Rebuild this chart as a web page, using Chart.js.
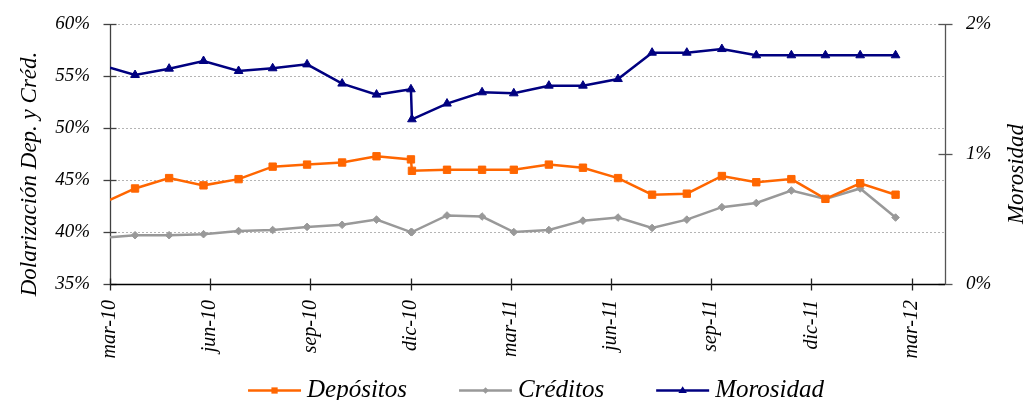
<!DOCTYPE html>
<html><head><meta charset="utf-8">
<script src="https://cdn.jsdelivr.net/npm/chart.js@4.4.0/dist/chart.umd.min.js"></script>
<style>html,body{margin:0;padding:0;background:#fff}#wrap{width:1030px;height:400px}</style>
</head><body><div id="wrap"><canvas id="c" width="1030" height="400"></canvas></div>
<script>
// ---- data ----
const tickLabels = ['mar-10','jun-10','sep-10','dic-10','mar-11','jun-11','sep-11','dic-11','mar-12'];
const monthPos = [0, 0.75, 1.77, 2.80, 3.85, 4.87, 5.90, 6.95, 7.98, 9.01, 9.04, 10.09, 11.14, 12.09, 13.14, 14.16, 15.21, 16.23, 17.27, 18.32, 19.35, 20.40, 21.42, 22.46, 23.52];
const depositos = [43.1, 44.2, 45.2, 44.5, 45.1, 46.3, 46.5, 46.7, 47.3, 47.0, 45.9, 46.0, 46.0, 46.0, 46.5, 46.2, 45.2, 43.6, 43.7, 45.4, 44.8, 45.1, 43.2, 44.7, 43.6];
const creditos  = [39.5, 39.7, 39.7, 39.8, 40.1, 40.2, 40.5, 40.7, 41.2, 40.0, 40.0, 41.6, 41.5, 40.0, 40.2, 41.1, 41.4, 40.4, 41.2, 42.4, 42.8, 44.0, 43.2, 44.2, 41.4];
const morosidad = [1.667, 1.61, 1.659, 1.718, 1.641, 1.662, 1.692, 1.544, 1.459, 1.50, 1.269, 1.39, 1.477, 1.469, 1.528, 1.528, 1.579, 1.782, 1.782, 1.81, 1.762, 1.762, 1.762, 1.762, 1.762];
const leftTicks = [35, 40, 45, 50, 55, 60];
const rightTicks = [0, 1, 2];
const seriesNames = ['Depósitos', 'Créditos', 'Morosidad'];
const leftTitle = 'Dolarización Dep. y Créd.';
const rightTitle = 'Morosidad';

const COLORS = ['#FF6600', '#999999', '#000080'];
const STYLES = ['rect', 'rectRot', 'triangle'];
const RADII = [5.2, 3.8, 5];
const FONT = '"Liberation Serif", "DejaVu Serif", serif';

function pts(vals) { return monthPos.map((x, i) => ({x: x, y: vals[i]})); }
function ds(i, vals, axis) {
  return {
    label: seriesNames[i], data: pts(vals), yAxisID: axis,
    borderColor: COLORS[i], backgroundColor: COLORS[i],
    borderWidth: 2.5, pointStyle: STYLES[i],
    pointRadius: c => c.dataIndex === 0 ? 0 : RADII[i],
    pointBorderWidth: 1, pointBorderColor: COLORS[i], pointBackgroundColor: COLORS[i],
    tension: 0
  };
}

function markerPath(ctx, style, x, y, r) {
  ctx.beginPath();
  if (style === 'rect') { const s = r * Math.SQRT1_2; ctx.rect(x - s, y - s, 2 * s, 2 * s); }
  else if (style === 'rectRot') { ctx.moveTo(x, y - r); ctx.lineTo(x + r, y); ctx.lineTo(x, y + r); ctx.lineTo(x - r, y); ctx.closePath(); }
  else { ctx.moveTo(x, y - r); ctx.lineTo(x + r, y + r * 0.6); ctx.lineTo(x - r, y + r * 0.6); ctx.closePath(); }
}

const decor = {
  id: 'decor',
  beforeDatasetsDraw(chart) {
    const {ctx, chartArea: a, scales} = chart;
    ctx.save();
    ctx.strokeStyle = '#b4b4b4'; ctx.lineWidth = 1; ctx.setLineDash([2, 2]);
    leftTicks.forEach(v => {
      if (v === leftTicks[0]) return;
      const y = Math.round(scales.y.getPixelForValue(v)) + 0.5;
      ctx.beginPath(); ctx.moveTo(a.left, y); ctx.lineTo(a.right, y); ctx.stroke();
    });
    ctx.setLineDash([]);
    ctx.strokeStyle = '#404040'; ctx.lineWidth = 1.3;
    const lx = Math.round(a.left) + 0.5;
    ctx.beginPath(); ctx.moveTo(lx, a.top); ctx.lineTo(lx, a.bottom); ctx.stroke();
    leftTicks.forEach(v => {
      const y = Math.round(scales.y.getPixelForValue(v)) + 0.5;
      ctx.beginPath(); ctx.moveTo(lx - 7, y); ctx.lineTo(lx + 6, y); ctx.stroke();
    });
    ctx.strokeStyle = '#555555';
    const rx = Math.round(a.right) + 0.5;
    ctx.beginPath(); ctx.moveTo(rx, a.top); ctx.lineTo(rx, a.bottom); ctx.stroke();
    rightTicks.forEach(v => {
      const y = Math.round(scales.y1.getPixelForValue(v)) + 0.5;
      ctx.beginPath(); ctx.moveTo(rx - 7, y); ctx.lineTo(rx + 7, y); ctx.stroke();
    });
    ctx.strokeStyle = '#000000'; ctx.lineWidth = 1.5;
    const by = Math.round(a.bottom) + 0.5;
    ctx.beginPath(); ctx.moveTo(a.left, by); ctx.lineTo(a.right, by); ctx.stroke();
    ctx.lineWidth = 1.3; ctx.strokeStyle = '#222';
    tickLabels.forEach((_, i) => {
      const x = Math.round(scales.x.getPixelForValue(i * 3)) + 0.5;
      ctx.beginPath(); ctx.moveTo(x, by - 6); ctx.lineTo(x, by + 6); ctx.stroke();
    });
    ctx.restore();
  },
  afterDraw(chart) {
    const {ctx} = chart;
    ctx.save();
    ctx.fillStyle = '#000';
    ctx.font = 'italic 23px ' + FONT;
    ctx.textAlign = 'center'; ctx.textBaseline = 'middle';
    ctx.save(); ctx.translate(30, 174); ctx.rotate(-Math.PI / 2); ctx.fillText(leftTitle, 0, 0); ctx.restore();
    ctx.save(); ctx.translate(1017, 174); ctx.rotate(-Math.PI / 2); ctx.fillText(rightTitle, 0, 0); ctx.restore();
    ctx.font = 'italic 25px ' + FONT;
    const lineLen = 53, gapLT = 6, gapItems = 52;
    const widths = seriesNames.map(n => ctx.measureText(n).width);
    let total = 0;
    widths.forEach((w, i) => { total += lineLen + gapLT + w + (i < widths.length - 1 ? gapItems : 0); });
    let x = 536 - total / 2;
    const ly = 390;
    ctx.textAlign = 'left';
    seriesNames.forEach((n, i) => {
      ctx.strokeStyle = COLORS[i]; ctx.lineWidth = 2.5;
      ctx.beginPath(); ctx.moveTo(x, ly + 0.5); ctx.lineTo(x + lineLen, ly + 0.5); ctx.stroke();
      ctx.fillStyle = COLORS[i];
      markerPath(ctx, STYLES[i], x + lineLen / 2, ly + 0.5, RADII[i] * 0.85);
      ctx.fill();
      ctx.fillStyle = '#000';
      ctx.fillText(n, x + lineLen + gapLT, ly);
      x += lineLen + gapLT + widths[i] + gapItems;
    });
    ctx.restore();
  }
};

new Chart(document.getElementById('c'), {
  type: 'line',
  data: { datasets: [ds(0, depositos, 'y'), ds(1, creditos, 'y'), ds(2, morosidad, 'y1')] },
  options: {
    responsive: false, animation: false, events: [],
    layout: { padding: { top: 18, left: 0, right: 0, bottom: 0 } },
    plugins: { legend: { display: false }, tooltip: { enabled: false } },
    scales: {
      x: {
        type: 'linear', position: 'bottom', min: 0, max: 25,
        afterBuildTicks: s => { s.ticks = tickLabels.map((_, i) => ({value: i * 3})); },
        afterFit: s => { s.height = 116; },
        grid: { display: false }, border: { display: false },
        ticks: { autoSkip: false, minRotation: 90, maxRotation: 90, padding: 8, color: '#000',
          font: { family: FONT, style: 'italic', size: 20 },
          callback: v => tickLabels[Math.round(v / 3)] }
      },
      y: {
        position: 'left', min: 35, max: 60,
        afterBuildTicks: s => { s.ticks = leftTicks.map(v => ({value: v})); },
        afterFit: s => { s.width = 110; },
        grid: { display: false }, border: { display: false },
        ticks: { padding: 12, color: '#000', font: { family: FONT, style: 'italic', size: 19 },
          callback: v => v + '%' }
      },
      y1: {
        position: 'right', min: 0, max: 2,
        afterBuildTicks: s => { s.ticks = rightTicks.map(v => ({value: v})); },
        afterFit: s => { s.width = 85; },
        grid: { display: false }, border: { display: false },
        ticks: { padding: 13, color: '#000', font: { family: FONT, style: 'italic', size: 19 },
          callback: v => v + '%' }
      }
    }
  },
  plugins: [decor]
});
</script>
</body></html>
